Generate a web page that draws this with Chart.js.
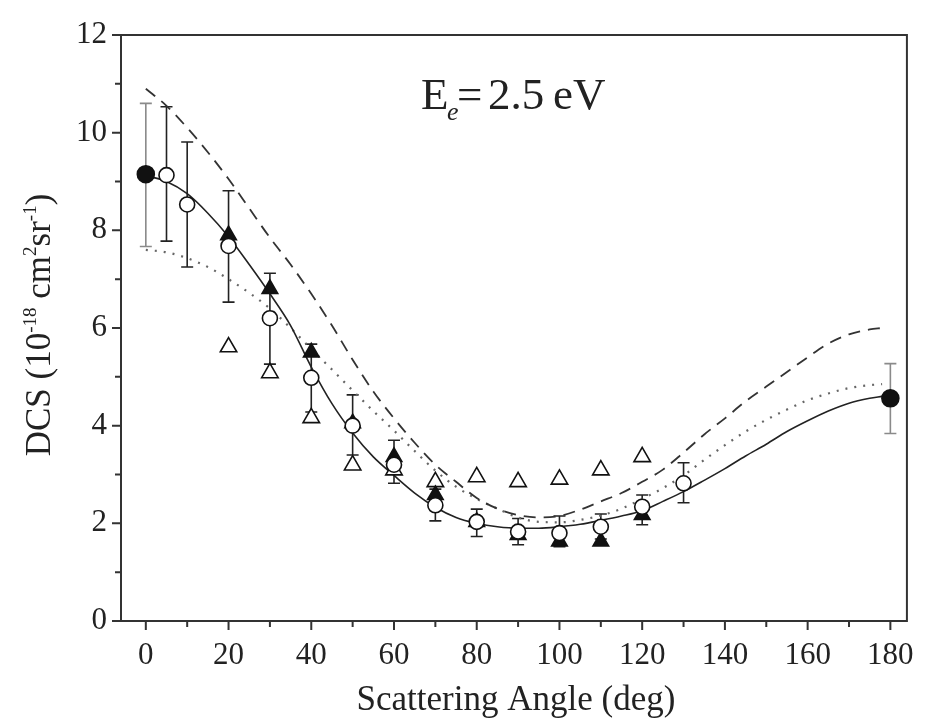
<!DOCTYPE html>
<html>
<head>
<meta charset="utf-8">
<script src="https://cdn.jsdelivr.net/npm/chart.js@4.4.1/dist/chart.umd.min.js"></script>
<style>
html, body { margin: 0; padding: 0; background: #fff; }
</style>
</head>
<body>
<canvas id="chart_1" width="930" height="720"></canvas>
<script>
// tick labels
const X_TICKS = [0, 20, 40, 60, 80, 100, 120, 140, 160, 180];
const Y_TICKS = [0, 2, 4, 6, 8, 10, 12];

// theory curves (angle in deg)
const curveAngle = [0, 5, 10, 15, 20, 25, 30, 35, 40, 45, 50, 55, 60, 65, 70, 75, 80, 85, 90,
    95, 100, 105, 110, 115, 120, 125, 130, 135, 140, 145, 150, 155, 160, 165, 170, 175, 178];
const solidCurve = [9.12, 9.0, 8.75, 8.35, 7.87, 7.3, 6.7, 6.05, 5.2, 4.45, 3.85, 3.36, 2.98, 2.62, 2.33,
    2.12, 2.0, 1.93, 1.9, 1.9, 1.93, 1.98, 2.06, 2.15, 2.26, 2.45, 2.65, 2.88, 3.12, 3.38, 3.62,
    3.88, 4.1, 4.3, 4.46, 4.56, 4.6];
const dashedCurve = [10.9, 10.55, 10.1, 9.6, 9.05, 8.45, 7.85, 7.3, 6.7, 6.05, 5.35, 4.7, 4.15, 3.65, 3.2,
    2.85, 2.52, 2.3, 2.17, 2.12, 2.15, 2.28, 2.45, 2.62, 2.85, 3.1, 3.45, 3.82, 4.15, 4.5, 4.8,
    5.1, 5.4, 5.68, 5.87, 5.97, 6.0];
const dottedCurve = [7.6, 7.55, 7.43, 7.25, 7.0, 6.72, 6.4, 6.0, 5.57, 5.15, 4.72, 4.3, 3.9, 3.48, 3.08,
    2.75, 2.5, 2.3, 2.12, 2.03, 2.02, 2.07, 2.16, 2.3, 2.5, 2.72, 2.98, 3.3, 3.6, 3.88, 4.12,
    4.33, 4.52, 4.66, 4.77, 4.83, 4.85];

// measurements
const filledCircleAngle = [0, 180];
const filledCircleDcs = [9.15, 4.56];
const filledCircleLow = [7.67, 3.84];
const filledCircleHigh = [10.6, 5.27];

const openCircleAngle = [5, 10, 20, 30, 40, 50, 60, 70, 80, 90, 100, 110, 120, 130];
const openCircleDcs = [9.13, 8.53, 7.68, 6.2, 4.98, 4.0, 3.2, 2.37, 2.03, 1.83, 1.8, 1.93, 2.34, 2.82];
const openCircleLow = [7.78, 7.25, 6.53, 5.26, 4.28, 3.4, 2.82, 2.05, 1.73, 1.56, 1.52, 1.68, 1.97, 2.42];
const openCircleHigh = [10.53, 9.81, 8.81, 7.12, 5.67, 4.63, 3.7, 2.7, 2.29, 2.1, 2.15, 2.19, 2.58, 3.24];

const filledTriAngle = [20, 30, 40, 50, 60, 70, 80, 90, 100, 110, 120];
const filledTriDcs = [7.9, 6.8, 5.5, 4.05, 3.36, 2.58, 2.03, 1.76, 1.63, 1.63, 2.17];

const openTriAngle = [20, 30, 40, 50, 60, 70, 80, 90, 100, 110, 120];
const openTriDcs = [5.61, 5.08, 4.16, 3.19, 3.09, 2.85, 2.95, 2.85, 2.9, 3.09, 3.36];

const SERIF = '"Liberation Serif", "Times New Roman", serif';

function pts(xs, ys) {
    return xs.map((x, i) => ({ x: x, y: ys[i] }));
}

function curve(ys, dash, width, color) {
    return {
        type: 'line',
        data: pts(curveAngle, ys),
        borderColor: color,
        borderWidth: width,
        borderDash: dash,
        pointRadius: 0,
        cubicInterpolationMode: 'monotone',
        fill: false,
        order: 10
    };
}

function marker(xs, ys, style, filled, r) {
    return {
        type: 'scatter',
        data: pts(xs, ys),
        pointStyle: style,
        pointRadius: r,
        pointBorderWidth: 1.6,
        pointBorderColor: '#111',
        pointBackgroundColor: filled ? '#111' : '#fff',
        order: 1
    };
}

// error bars drawn with the chart's own scales
const errorBars = {
    id: 'errorBars',
    beforeDatasetsDraw(chart) {
        const ctx = chart.ctx;
        const xs = chart.scales.x, ys = chart.scales.y;
        const sets = [
            [filledCircleAngle, filledCircleLow, filledCircleHigh, '#8a8a8a'],
            [openCircleAngle, openCircleLow, openCircleHigh, '#222']
        ];
        ctx.save();
        ctx.lineWidth = 1.6;
        sets.forEach(s => {
            ctx.strokeStyle = s[3];
            s[0].forEach((a, i) => {
                const px = xs.getPixelForValue(a);
                const lo = ys.getPixelForValue(s[1][i]);
                const hi = ys.getPixelForValue(s[2][i]);
                ctx.beginPath();
                ctx.moveTo(px, lo); ctx.lineTo(px, hi);
                ctx.moveTo(px - 6, lo); ctx.lineTo(px + 6, lo);
                ctx.moveTo(px - 6, hi); ctx.lineTo(px + 6, hi);
                ctx.stroke();
            });
        });
        ctx.restore();
    }
};

// box, outward ticks and the texts
const frameAndText = {
    id: 'frameAndText',
    afterDraw(chart) {
        const ctx = chart.ctx;
        const a = chart.chartArea;
        const xs = chart.scales.x, ys = chart.scales.y;
        ctx.save();
        ctx.strokeStyle = '#333';
        ctx.lineWidth = 2;
        ctx.strokeRect(a.left, a.top, a.right - a.left, a.bottom - a.top);

        ctx.beginPath();
        for (let v = 0; v <= 180; v += 10) {
            const px = xs.getPixelForValue(v);
            const len = v % 20 === 0 ? 9 : 6;
            ctx.moveTo(px, a.bottom); ctx.lineTo(px, a.bottom + len);
        }
        for (let v = 0; v <= 12; v += 1) {
            const py = ys.getPixelForValue(v);
            const len = v % 2 === 0 ? 9 : 6;
            ctx.moveTo(a.left, py); ctx.lineTo(a.left - len, py);
        }
        ctx.stroke();

        ctx.fillStyle = '#222';
        // x title
        ctx.font = '35px ' + SERIF;
        ctx.textAlign = 'center';
        ctx.textBaseline = 'alphabetic';
        ctx.fillText('Scattering Angle (deg)', (a.left + a.right) / 2 + 2, 710);

        // y title with superscripts
        const parts = [
            ['DCS (10', 35, 0], ['-18', 19, 14], [' cm', 35, 0], ['2', 19, 14],
            ['sr', 35, 0], ['-1', 19, 14], [')', 35, 0]
        ];
        let total = 0;
        parts.forEach(p => { ctx.font = p[1] + 'px ' + SERIF; total += ctx.measureText(p[0]).width; });
        ctx.translate(50, 325);
        ctx.rotate(-Math.PI / 2);
        ctx.textAlign = 'left';
        let cx = -total / 2;
        parts.forEach(p => {
            ctx.font = p[1] + 'px ' + SERIF;
            ctx.fillText(p[0], cx, -p[2]);
            cx += ctx.measureText(p[0]).width;
        });
        ctx.setTransform(1, 0, 0, 1, 0, 0);

        // energy label
        ctx.textAlign = 'left';
        ctx.font = '45px ' + SERIF;
        ctx.fillText('E', 421, 109);
        ctx.font = 'italic 26px ' + SERIF;
        ctx.fillText('e', 447, 120);
        ctx.font = '45px ' + SERIF;
        ctx.fillText('=', 457, 109);
        ctx.fillText('2.5', 488, 109);
        ctx.fillText('eV', 553, 109);
        ctx.restore();
    }
};

new Chart('chart_1', {
    type: 'scatter',
    data: {
        datasets: [
            marker(filledCircleAngle, filledCircleDcs, 'circle', true, 8.5),
            marker(openCircleAngle, openCircleDcs, 'circle', false, 7.5),
            marker(filledTriAngle, filledTriDcs, 'triangle', true, 9),
            marker(openTriAngle, openTriDcs, 'triangle', false, 9.5),
            curve(solidCurve, [], 1.6, '#222'),
            curve(dashedCurve, [12, 8], 1.8, '#333'),
            curve(dottedCurve, [2, 7], 2.2, '#666')
        ]
    },
    options: {
        responsive: false,
        animation: false,
        layout: { padding: { top: 35, right: 18, left: 0, bottom: 0 } },
        plugins: { legend: { display: false }, tooltip: { enabled: false } },
        scales: {
            x: {
                type: 'linear',
                min: -6,
                max: 184,
                grid: { display: false, drawTicks: false },
                border: { display: false },
                afterBuildTicks: s => { s.ticks = X_TICKS.map(v => ({ value: v })); },
                afterFit: s => { s.height = 99; },
                ticks: { color: '#222', padding: 16, maxRotation: 0, font: { family: SERIF, size: 31 } }
            },
            y: {
                type: 'linear',
                min: 0,
                max: 12,
                grid: { display: false, drawTicks: false },
                border: { display: false },
                afterBuildTicks: s => { s.ticks = Y_TICKS.map(v => ({ value: v })); },
                afterFit: s => { s.width = 121; },
                ticks: { color: '#222', padding: 14, font: { family: SERIF, size: 31 } }
            }
        }
    },
    plugins: [errorBars, frameAndText]
});
</script>
</body>
</html>
